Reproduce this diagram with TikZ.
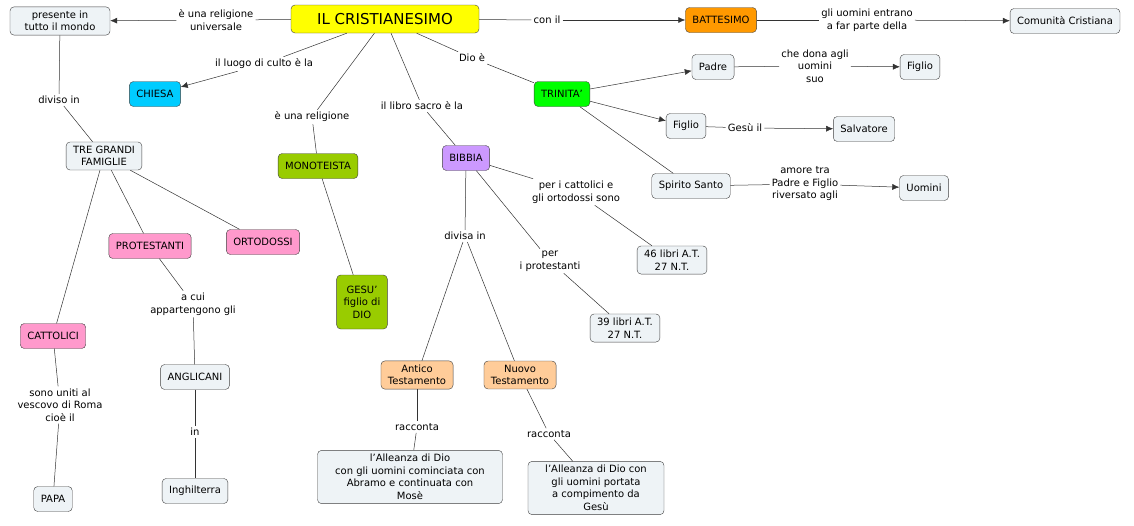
\documentclass[tikz,border=0pt]{standalone}
\usepackage{fontspec}
\setmainfont{DejaVu Sans}
\usetikzlibrary{arrows.meta}
\definecolor{bx}{HTML}{EEF3F6}
\definecolor{yel}{HTML}{FFFF00}
\definecolor{ora}{HTML}{FF9900}
\definecolor{cya}{HTML}{00CCFF}
\definecolor{olv}{HTML}{99CC00}
\definecolor{pur}{HTML}{CC99FF}
\definecolor{grn}{HTML}{00FF00}
\definecolor{pnk}{HTML}{FF99CC}
\definecolor{pch}{HTML}{FFCC99}
\begin{document}
\begin{tikzpicture}[x=1pt,y=-1pt,
  every node/.style={font=\fontsize{10}{12.5}\selectfont,align=center},
  c/.style={draw=black!75,rounded corners=4pt,fill=bx,inner xsep=7pt,inner ysep=4pt,minimum height=25pt},
  l/.style={inner sep=2pt},
  ln/.style={draw=black!80,line width=0.5pt},
  ar/.style={ln,-{Latex[length=7pt,width=6pt]}}]
\useasboundingbox (0,0) rectangle (1134,525);
\node[c,fill=yel,font=\fontsize{15}{17}\selectfont,minimum width=188pt,minimum height=28pt] (cr) at (385,19) {IL CRISTIANESIMO};
\node[c,minimum width=100pt] (pr) at (60,21) {presente in\\tutto il mondo};
\node[l] (l1) at (216,20) {è una religione\\universale};
\node[c,fill=ora] (bat) at (721,20) {BATTESIMO};
\node[l] (l2) at (547,20) {con il};
\node[l] (l3) at (867,20) {gli uomini entrano\\a far parte della};
\node[c] (com) at (1065,21) {Comunità Cristiana};
\node[c,fill=cya] (chi) at (155,94) {CHIESA};
\node[l] (l4) at (264,64) {il luogo di culto è la};
\node[l] (l5) at (59,100) {diviso in};
\node[c] (tre) at (104,156) {TRE GRANDI\\FAMIGLIE};
\node[l] (l6) at (312,117) {è una religione};
\node[c,fill=olv] (mon) at (318,166) {MONOTEISTA};
\node[l] (l7) at (422,106) {il libro sacro è la};
\node[c,fill=pur] (bib) at (466,158) {BIBBIA};
\node[l] (l8) at (472,58) {Dio è};
\node[c,fill=grn] (tri) at (562,94) {TRINITA'};
\node[c] (pad) at (713,67) {Padre};
\node[l] (l9) at (815,66) {che dona agli\\uomini\\suo};
\node[c] (fi1) at (920,67) {Figlio};
\node[c] (fi2) at (686,126) {Figlio};
\node[l] (l10) at (745,128) {Gesù il};
\node[c] (sal) at (864,129) {Salvatore};
\node[c] (spi) at (691,186) {Spirito Santo};
\node[l] (l11) at (805,184) {amore tra\\Padre e Figlio\\riversato agli};
\node[c] (uom) at (924,188) {Uomini};
\node[l] (l12) at (576,192) {per i cattolici e\\gli ortodossi sono};
\node[c] (b46) at (672,260) {46 libri A.T.\\27 N.T.};
\node[l] (l13) at (550,261) {per\\i protestanti};
\node[c] (b39) at (625,328) {39 libri A.T.\\27 N.T.};
\node[l] (l14) at (465,236) {divisa in};
\node[c,fill=pnk] (pro) at (150,246) {PROTESTANTI};
\node[c,fill=pnk] (ort) at (263,242) {ORTODOSSI};
\node[c,fill=olv,minimum height=54pt] (ges) at (362,302) {GESU'\\figlio di\\DIO};
\node[l] (l15) at (193,304) {a cui\\appartengono gli};
\node[c,fill=pnk] (cat) at (53,336) {CATTOLICI};
\node[c] (ang) at (195,377) {ANGLICANI};
\node[l] (l16) at (60,405) {sono uniti al\\vescovo di Roma\\cioè il};
\node[l] (l17) at (195,432) {in};
\node[c] (pap) at (53,499) {PAPA};
\node[c] (ing) at (195,491) {Inghilterra};
\node[c,fill=pch] (ant) at (417,375) {Antico\\Testamento};
\node[c,fill=pch] (nuo) at (520,375) {Nuovo\\Testamento};
\node[l] (l18) at (417,427) {racconta};
\node[l] (l19) at (549,434) {racconta};
\node[c,minimum width=185pt] (al1) at (410,477) {l'Alleanza di Dio\\con gli uomini cominciata con\\Abramo e continuata con\\Mosè};
\node[c,minimum width=136pt] (al2) at (596,488) {l'Alleanza di Dio con\\gli uomini portata\\a compimento da\\Gesù};
% connectors
\draw[ln] (cr)--(l1); \draw[ar] (l1)--(pr);
\draw[ln] (cr)--(l2); \draw[ar] (l2)--(bat);
\draw[ln] (bat)--(l3); \draw[ar] (l3)--(com);
\draw[ln] (cr)--(l4); \draw[ar] (l4)--(chi);
\draw[ln] (pr)--(l5); \draw[ln] (l5)--(tre);
\draw[ln] (cr)--(l6); \draw[ln] (l6)--(mon);
\draw[ln] (cr)--(l7); \draw[ln] (l7)--(bib);
\draw[ln] (cr)--(l8); \draw[ln] (l8)--(tri);
\draw[ar] (tri)--(pad); \draw[ar] (tri)--(fi2); \draw[ln] (tri)--(spi);
\draw[ln] (pad)--(l9); \draw[ar] (l9)--(fi1);
\draw[ln] (fi2)--(l10); \draw[ar] (l10)--(sal);
\draw[ln] (spi)--(l11); \draw[ar] (l11)--(uom);
\draw[ln] (bib)--(l12); \draw[ln] (l12)--(b46);
\draw[ln] (bib)--(l13); \draw[ln] (l13)--(b39);
\draw[ln] (bib)--(l14); \draw[ln] (l14)--(ant); \draw[ln] (l14)--(nuo);
\draw[ln] (mon)--(ges);
\draw[ln] (tre)--(pro); \draw[ln] (tre)--(ort); \draw[ln] (tre)--(cat);
\draw[ln] (pro)--(l15); \draw[ln] (l15)--(ang);
\draw[ln] (cat)--(l16); \draw[ln] (l16)--(pap);
\draw[ln] (ang)--(l17); \draw[ln] (l17)--(ing);
\draw[ln] (ant)--(l18); \draw[ln] (l18)--(al1);
\draw[ln] (nuo)--(l19); \draw[ln] (l19)--(al2);
\end{tikzpicture}
\end{document}
